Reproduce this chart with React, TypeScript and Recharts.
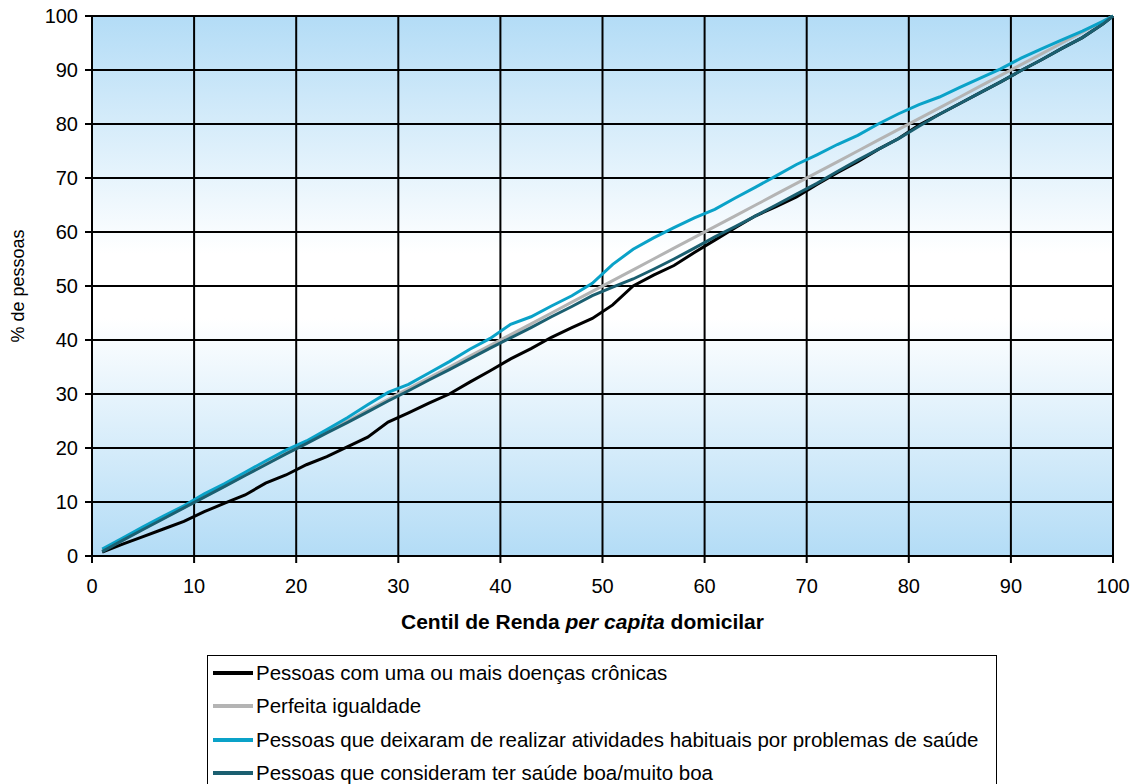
import React from "react";
import { LineChart, Line, XAxis, YAxis, CartesianGrid } from "recharts";

// centil de renda per capita domiciliar
const centis = [1, 3, 5, 7, 9, 11, 13, 15, 17, 19, 21, 23, 25, 27, 29, 31, 33, 35, 37, 39, 41, 43, 45, 47, 49, 51, 53, 55, 57, 59, 61, 63, 65, 67, 69, 71, 73, 75, 77, 79, 81, 83, 85, 87, 89, 91, 93, 95, 97, 99, 100];

const doencasCronicas = [0.7, 2.2, 3.6, 5.0, 6.4, 8.2, 9.8, 11.3, 13.5, 15.0, 16.9, 18.4, 20.2, 22.0, 24.8, 26.5, 28.3, 30.0, 32.2, 34.3, 36.5, 38.4, 40.5, 42.3, 44.0, 46.5, 50.0, 52.0, 53.8, 56.2, 58.5, 60.8, 63.0, 64.7, 66.5, 68.8, 71.0, 73.0, 75.3, 77.3, 79.8, 81.8, 83.8, 85.8, 87.8, 89.9, 91.9, 94.0, 96.0, 98.5, 100];

const igualdade = [1, 3, 5, 7, 9, 11, 13, 15, 17, 19, 21, 23, 25, 27, 29, 31, 33, 35, 37, 39, 41, 43, 45, 47, 49, 51, 53, 55, 57, 59, 61, 63, 65, 67, 69, 71, 73, 75, 77, 79, 81, 83, 85, 87, 89, 91, 93, 95, 97, 99, 100];

const deixaramAtividades = [1.3, 3.3, 5.4, 7.4, 9.3, 11.5, 13.4, 15.5, 17.6, 19.6, 21.3, 23.4, 25.6, 28.0, 30.3, 31.8, 33.9, 36.0, 38.3, 40.3, 42.9, 44.3, 46.3, 48.2, 50.5, 54.0, 56.8, 58.9, 60.8, 62.6, 64.2, 66.3, 68.3, 70.4, 72.5, 74.3, 76.2, 77.9, 80.0, 81.9, 83.6, 85.0, 86.8, 88.5, 90.2, 92.2, 93.9, 95.6, 97.2, 99.0, 100];

const saudeBoa = [0.8, 2.9, 4.9, 6.9, 8.9, 10.9, 12.9, 14.9, 16.9, 18.9, 20.8, 22.8, 24.7, 26.7, 28.7, 30.6, 32.6, 34.5, 36.5, 38.5, 40.4, 42.3, 44.3, 46.2, 48.2, 49.8, 51.3, 53.1, 55.0, 57.0, 59.1, 61.0, 63.0, 65.0, 67.0, 69.0, 71.2, 73.3, 75.3, 77.3, 79.6, 81.8, 83.8, 85.8, 87.8, 89.9, 91.9, 94.0, 96.0, 98.5, 100];

const axisTicks = [0, 10, 20, 30, 40, 50, 60, 70, 80, 90, 100];

const seriesInfo = [
  { key: "cronicas", name: "Pessoas com uma ou mais doenças crônicas", color: "#000000" },
  { key: "igualdade", name: "Perfeita igualdade", color: "#b4b4b4" },
  { key: "atividades", name: "Pessoas que deixaram de realizar atividades habituais por problemas de saúde", color: "#0aa2c8" },
  { key: "saude", name: "Pessoas que consideram ter saúde boa/muito boa", color: "#1b5f70" },
];

const data = centis.map((c, i) => ({
  c,
  cronicas: doencasCronicas[i],
  igualdade: igualdade[i],
  atividades: deixaramAtividades[i],
  saude: saudeBoa[i],
}));

const FONT = "'Liberation Sans', Arial, sans-serif";

function XTick(props: any) {
  return (
    <text x={props.x} y={props.y} dy="0.71em" textAnchor="middle" fontFamily={FONT} fontSize={20} fill="#000">
      {props.payload.value}
    </text>
  );
}

function YTick(props: any) {
  return (
    <text x={props.x} y={props.y} dy="0.36em" textAnchor="end" fontFamily={FONT} fontSize={20} fill="#000">
      {props.payload.value}
    </text>
  );
}

function XTitle(props: any) {
  const vb = props.viewBox || {};
  const cx = (vb.x ?? 0) + (vb.width ?? 0) / 2 - 20;
  return (
    <text x={cx} y={(vb.y ?? 0) + 73} textAnchor="middle" fontFamily={FONT} fontSize={21} fontWeight="bold" fill="#000">
      Centil de Renda <tspan fontStyle="italic">per capita</tspan> domicilar
    </text>
  );
}

function YTitle(props: any) {
  const vb = props.viewBox || {};
  const cy = (vb.y ?? 0) + (vb.height ?? 0) / 2;
  return (
    <text x={24} y={cy} transform={`rotate(-90, 24, ${cy})`} textAnchor="middle" fontFamily={FONT} fontSize={18} fill="#000">
      % de pessoas
    </text>
  );
}

export default function App() {
  return (
    <div style={{ position: "absolute", left: 0, top: 0, width: 1137, height: 784, overflow: "hidden", background: "#fff", fontFamily: FONT }}>
      <LineChart width={1137} height={784} data={data} margin={{ top: 16, right: 24, bottom: 156, left: 0 }}>
        <defs>
          <linearGradient id="bandas" x1="0" y1="0" x2="0" y2="1">
            <stop offset="0%" stopColor="#b3dcf6" />
            <stop offset="44%" stopColor="#ffffff" />
            <stop offset="56%" stopColor="#ffffff" />
            <stop offset="100%" stopColor="#b3dcf6" />
          </linearGradient>
        </defs>
        <CartesianGrid stroke="#000" strokeWidth={2} fill="url(#bandas)" fillOpacity={1} horizontalValues={axisTicks} verticalValues={axisTicks} />
        <XAxis
          dataKey="c"
          type="number"
          domain={[0, 100]}
          ticks={axisTicks}
          height={72}
          tickSize={7}
          tickMargin={16}
          axisLine={{ stroke: "#000", strokeWidth: 2 }}
          tickLine={{ stroke: "#000", strokeWidth: 2 }}
          tick={<XTick />}
          label={<XTitle />}
        />
        <YAxis
          type="number"
          domain={[0, 100]}
          ticks={axisTicks}
          width={92}
          tickSize={7}
          tickMargin={7}
          axisLine={{ stroke: "#000", strokeWidth: 2 }}
          tickLine={{ stroke: "#000", strokeWidth: 2 }}
          tick={<YTick />}
          label={<YTitle />}
        />
        {seriesInfo.map((s) => (
          <Line
            key={s.key}
            type="linear"
            dataKey={s.key}
            name={s.name}
            stroke={s.color}
            strokeWidth={3}
            dot={false}
            activeDot={false}
            isAnimationActive={false}
          />
        ))}
      </LineChart>
      <div
        style={{
          position: "absolute",
          left: 207,
          top: 655,
          width: 790,
          height: 140,
          border: "1px solid #000",
          boxSizing: "border-box",
          paddingTop: 0,
        }}
      >
        {seriesInfo.map((s) => (
          <div key={s.key} style={{ display: "flex", alignItems: "center", height: 33.5, fontSize: 20.5, lineHeight: "22px", color: "#000", whiteSpace: "nowrap" }}>
            <span style={{ display: "inline-block", width: 40, height: 4, background: s.color, marginLeft: 5, marginRight: 3, flexShrink: 0 }} />
            <span>{s.name}</span>
          </div>
        ))}
      </div>
    </div>
  );
}
